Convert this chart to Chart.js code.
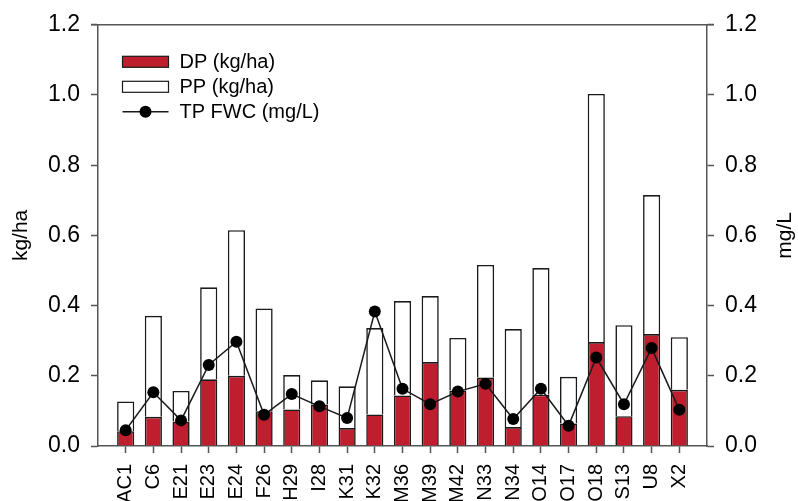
<!DOCTYPE html>
<html>
<head>
<meta charset="utf-8">
<script src="https://cdn.jsdelivr.net/npm/chart.js@4.4.1/dist/chart.umd.min.js"></script>
<style>
html,body{margin:0;padding:0;background:#ffffff;}
#wrap{width:798px;height:501px;position:relative;overflow:hidden;}
canvas{display:block;}
</style>
</head>
<body>
<div id="wrap"><canvas id="c" width="798" height="501"></canvas></div>
<script>
const categories = ['AC1','C6','E21','E23','E24','F26','H29','I28','K31','K32','M36','M39','M42','N33','N34','O14','O17','O18','S13','U8','X2'];
const dpValues = [0.042,0.083,0.070,0.190,0.200,0.099,0.104,0.118,0.051,0.090,0.144,0.239,0.158,0.195,0.054,0.146,0.064,0.296,0.085,0.319,0.160];
const ppValues = [0.085,0.288,0.087,0.262,0.415,0.293,0.098,0.069,0.119,0.246,0.269,0.188,0.150,0.321,0.279,0.361,0.133,0.707,0.259,0.396,0.150];
const tpFwcValues = [0.045,0.153,0.073,0.231,0.297,0.089,0.148,0.113,0.080,0.383,0.163,0.119,0.155,0.177,0.077,0.163,0.058,0.252,0.119,0.279,0.103];
const yTickValues = [0, 0.2, 0.4, 0.6, 0.8, 1.0, 1.2];
const seriesNames = ['DP (kg/ha)', 'PP (kg/ha)', 'TP FWC (mg/L)'];
const leftTitle = 'kg/ha';
const rightTitle = 'mg/L';

const FONT = '"Liberation Sans", Arial, Helvetica, sans-serif';
const RED = '#BE1E2D';
const AXIS = '#555555';
const OUTLINE = '#1a1a1a';

Chart.defaults.font.family = FONT;
Chart.defaults.color = '#000';

// one empty slot on each side of the categories
const labels = [''].concat(categories, ['']);
const pad = arr => [null].concat(arr, [null]);

const frameAndText = {
  id: 'frameAndText',
  afterDraw(chart) {
    const ctx = chart.ctx;
    const a = chart.chartArea;
    ctx.save();
    // top frame line
    ctx.strokeStyle = AXIS;
    ctx.lineWidth = 1.5;
    ctx.beginPath();
    ctx.moveTo(a.left - 7, a.top);
    ctx.lineTo(a.right + 7, a.top);
    ctx.stroke();

    // right axis title (reads bottom-to-top)
    ctx.fillStyle = '#000';
    ctx.font = '21px ' + FONT;
    ctx.textAlign = 'center';
    ctx.textBaseline = 'middle';
    ctx.translate(785, (a.top + a.bottom) / 2);
    ctx.rotate(-Math.PI / 2);
    ctx.fillText(rightTitle, 0, 0);
    ctx.restore();

    // legend
    ctx.save();
    const lx = a.left + 24.5, bw = 46, bh = 11;
    const rows = [a.top + 37, a.top + 62, a.top + 87];
    ctx.lineWidth = 1.2;
    ctx.strokeStyle = OUTLINE;
    ctx.fillStyle = RED;
    ctx.fillRect(lx, rows[0] - bh / 2, bw, bh);
    ctx.strokeRect(lx, rows[0] - bh / 2, bw, bh);
    ctx.fillStyle = '#fff';
    ctx.fillRect(lx, rows[1] - bh / 2, bw, bh);
    ctx.strokeRect(lx, rows[1] - bh / 2, bw, bh);
    ctx.lineWidth = 1.5;
    ctx.beginPath();
    ctx.moveTo(lx, rows[2]);
    ctx.lineTo(lx + bw, rows[2]);
    ctx.stroke();
    ctx.fillStyle = '#000';
    ctx.beginPath();
    ctx.arc(lx + bw / 2, rows[2], 6, 0, Math.PI * 2);
    ctx.fill();
    ctx.font = '20px ' + FONT;
    ctx.textAlign = 'left';
    ctx.textBaseline = 'middle';
    for (let i = 0; i < 3; i++) ctx.fillText(seriesNames[i], lx + 57, rows[i] + 1);
    ctx.restore();
  }
};

const tickColorFn = c => (c.index === 0 || c.index === labels.length - 1) ? 'rgba(0,0,0,0)' : AXIS;

new Chart(document.getElementById('c'), {
  data: {
    labels: labels,
    datasets: [
      {
        type: 'line', label: seriesNames[2], data: pad(tpFwcValues), yAxisID: 'y1', order: 0,
        borderColor: OUTLINE, borderWidth: 1.5, pointRadius: 6, pointHoverRadius: 6,
        pointBackgroundColor: '#000', pointBorderColor: '#000', pointBorderWidth: 0,
        tension: 0, fill: false, spanGaps: false
      },
      {
        type: 'bar', label: seriesNames[0], data: pad(dpValues), yAxisID: 'y', order: 1, stack: 's',
        backgroundColor: RED, borderColor: OUTLINE, borderWidth: 1.6,
        barPercentage: 0.62, categoryPercentage: 1.0
      },
      {
        type: 'bar', label: seriesNames[1], data: pad(ppValues), yAxisID: 'y', order: 1, stack: 's',
        backgroundColor: '#ffffff', borderColor: OUTLINE, borderWidth: 1.6,
        barPercentage: 0.62, categoryPercentage: 1.0
      }
    ]
  },
  options: {
    responsive: false,
    animation: false,
    devicePixelRatio: 1,
    layout: { padding: { top: 20, left: 0, right: 0, bottom: 0 } },
    plugins: { legend: { display: false }, tooltip: { enabled: false } },
    scales: {
      x: {
        type: 'category', offset: false, stacked: true,
        grid: { display: true, drawOnChartArea: false, drawTicks: true, tickLength: 7, tickWidth: 1.5, tickColor: tickColorFn, offset: false },
        border: { display: true, color: AXIS, width: 1.5 },
        ticks: { autoSkip: false, minRotation: 90, maxRotation: 90, padding: 11, font: { size: 20 }, color: '#000' },
        afterFit: s => { s.height = 55; }
      },
      y: {
        type: 'linear', position: 'left', min: 0, max: 1.2, stacked: true,
        afterBuildTicks: s => { s.ticks = yTickValues.map(v => ({ value: v })); },
        grid: { drawOnChartArea: false, drawTicks: true, tickLength: 7, tickWidth: 1.5, tickColor: AXIS },
        border: { display: true, color: AXIS, width: 1.5 },
        ticks: { padding: 11, font: { size: 23 }, color: '#000', callback: v => Number(v).toFixed(1) },
        title: { display: true, text: leftTitle, font: { size: 21 }, color: '#000', padding: { top: 9, bottom: 0 } },
        afterFit: s => { s.width = 98; }
      },
      y1: {
        type: 'linear', position: 'right', min: 0, max: 1.2,
        afterBuildTicks: s => { s.ticks = yTickValues.map(v => ({ value: v })); },
        grid: { drawOnChartArea: false, drawTicks: true, tickLength: 7, tickWidth: 1.5, tickColor: AXIS },
        border: { display: true, color: AXIS, width: 1.5 },
        ticks: { padding: 11, font: { size: 23 }, color: '#000', callback: v => Number(v).toFixed(1) },
        afterFit: s => { s.width = 91; }
      }
    }
  },
  plugins: [frameAndText]
});
</script>
</body>
</html>
